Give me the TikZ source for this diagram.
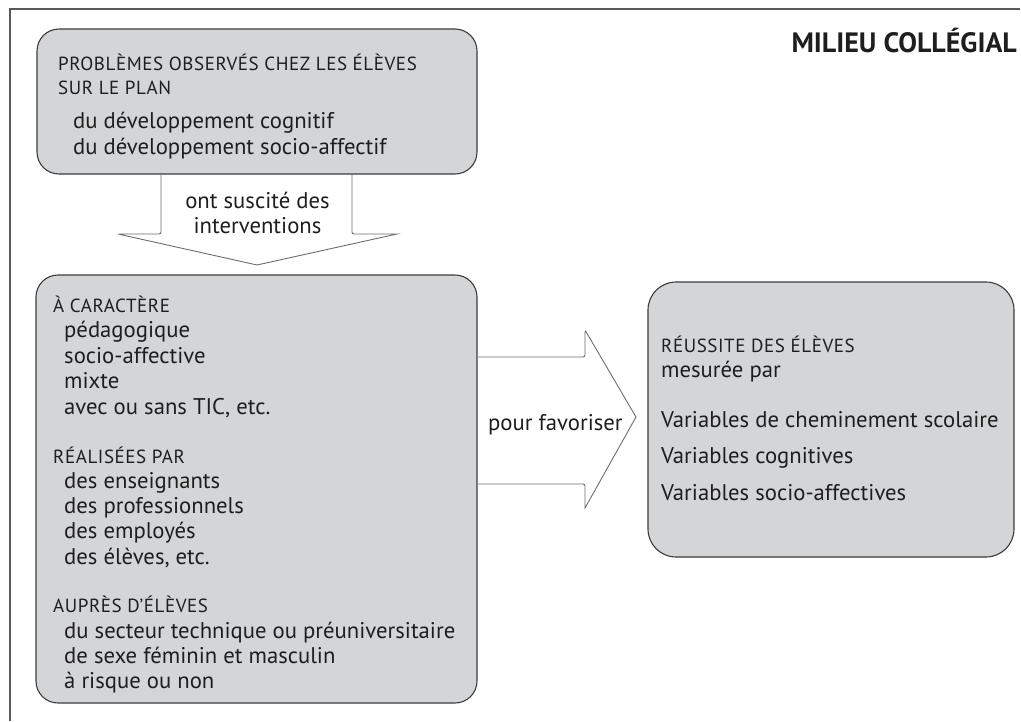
\documentclass[tikz,border=0pt]{standalone}
\usepackage{fontspec}
\setmainfont{PT Sans}
\newfontfamily\hdfont[LetterSpace=3]{PT Sans}
\definecolor{boxfill}{HTML}{D4D5D7}
\definecolor{boxline}{HTML}{3C3C3C}
\definecolor{arrline}{HTML}{6E6E6E}
\definecolor{frameline}{HTML}{5A5A5A}
\definecolor{txt}{HTML}{1E1E1E}
\begin{document}
\begin{tikzpicture}[x=1pt,y=-1pt,
  box/.style={draw=boxline, line width=1.1pt, fill=boxfill, rounded corners=22pt, inner sep=0pt},
  bigarrow/.style={draw=arrline, line width=0.9pt, fill=white, rounded corners=2pt},
  hd/.style={anchor=base west, inner sep=0pt, text=txt, font=\hdfont\fontsize{19}{22}\selectfont},
  it/.style={anchor=base west, inner sep=0pt, text=txt, font=\fontsize{22.7}{26}\selectfont},
  lab/.style={anchor=base, inner sep=0pt, text=txt, font=\fontsize{22.7}{26}\selectfont}]
\useasboundingbox (0,0) rectangle (1021,721);
\fill[white] (0,0) rectangle (1021,721);
% frame
\draw[frameline, line width=1.8pt] (10,721) -- (10,9) -- (1020,9);
% boxes (nodes)
\node[box, minimum width=440pt, minimum height=145pt] (b1) at (257,101.5) {};
\node[box, minimum width=441pt, minimum height=428pt] (b2) at (256.5,489) {};
\node[box, minimum width=366pt, minimum height=275pt, rounded corners=28pt] (b3) at (831,419.5) {};
% down arrow
\coordinate (dtip) at (257,265);
\draw[bigarrow] ([yshift=-0.6pt]b1.south -| 161,0) -- (161,234) -- (118,234) [sharp corners]-- (dtip) -- (397,234) [rounded corners=2pt]-- (352,234) -- ([yshift=-0.6pt]b1.south -| 352,0);
% right arrow
\coordinate (rtip) at (636,417);
\draw[bigarrow] ([xshift=0.6pt]b2.east |- 0,357) -- (585,357) -- (585,330) [sharp corners]-- (rtip) -- (585,508) [rounded corners=2pt]-- (585,484) -- ([xshift=0.6pt]b2.east |- 0,484);
% title
\node[anchor=base east, inner sep=0pt, text=txt, font=\fontsize{28}{32}\bfseries\selectfont] (title) at (1017,52) {MILIEU COLLÉGIAL};
% box 1 text
\node[hd] (t1a) at (58,70) {PROBLÈMES OBSERVÉS CHEZ LES ÉLÈVES};
\node[hd] (t1b) at (58,94) {SUR LE PLAN};
\node[it] (t1c) at (73,128) {du développement cognitif};
\node[it] (t1d) at (73,154) {du développement socio-affectif};
% arrow labels
\node[lab] (l1a) at (257.5,208) {ont suscité des};
\node[lab] (l1b) at (257.5,233) {interventions};
\node[anchor=base west, inner sep=0pt, text=txt, font=\fontsize{22.7}{26}\selectfont] (l2) at (488,430) {pour favoriser};
% box 2 text
\node[hd] (h1) at (53,312) {À CARACTÈRE};
\node[it] (i1) at (64,337) {pédagogique};
\node[it] (i2) at (64,363) {socio-affective};
\node[it] (i3) at (64,388) {mixte};
\node[it] (i4) at (64,414) {avec ou sans TIC, etc.};
\node[hd] (h2) at (53,463) {RÉALISÉES PAR};
\node[it] (i5) at (64,488) {des enseignants};
\node[it] (i6) at (64,513) {des professionnels};
\node[it] (i7) at (64,538) {des employés};
\node[it] (i8) at (64,564) {des élèves, etc.};
\node[hd] (h3) at (53,612) {AUPRÈS D’ÉLÈVES};
\node[it] (i9) at (64,638) {du secteur technique ou préuniversitaire};
\node[it] (i10) at (64,663) {de sexe féminin et masculin};
\node[it] (i11) at (64,688) {à risque ou non};
% box 3 text
\node[hd] (r1) at (661,352) {RÉUSSITE DES ÉLÈVES};
\node[it] (r2) at (661,377) {mesurée par};
\node[it] (r3) at (661,427) {Variables de cheminement scolaire};
\node[it] (r4) at (661,463) {Variables cognitives};
\node[it] (r5) at (661,500) {Variables socio-affectives};
\end{tikzpicture}
\end{document}
